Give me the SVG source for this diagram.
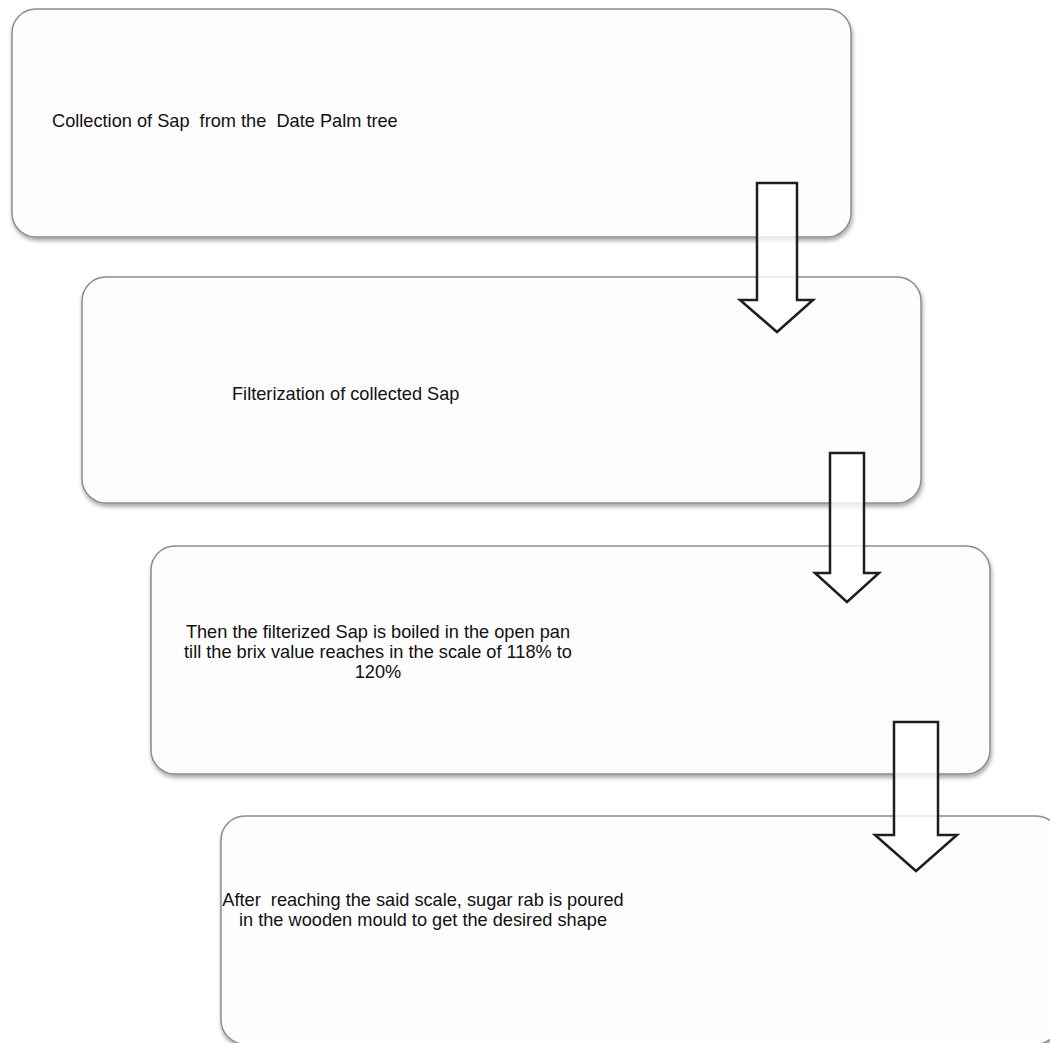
<svg xmlns="http://www.w3.org/2000/svg" width="1050" height="1043" viewBox="0 0 1050 1043">
<defs>
<filter id="sh" x="-5%" y="-5%" width="110%" height="115%">
<feDropShadow dx="1" dy="3" stdDeviation="2" flood-color="#000" flood-opacity="0.35"/>
</filter>
<style>
.box{fill:#fdfdfd;stroke:#8c8c8c;stroke-width:1.5;filter:url(#sh)}
.t{font-family:"Liberation Sans",Arial,sans-serif;font-size:18.2px;fill:#111}
.arr{fill:#fff;fill-opacity:0.8;stroke:#1e1e1e;stroke-width:2.5;stroke-linejoin:miter}
</style>
</defs>
<rect width="1050" height="1043" fill="#fff"/>
<g id="node1">
<rect class="box" x="12" y="9" width="839" height="228" rx="24"/>
<text class="t" x="52" y="127" xml:space="preserve">Collection of Sap  from the  Date Palm tree</text>
</g>
<g id="node2">
<rect class="box" x="82" y="277" width="839" height="226" rx="24"/>
<text class="t" x="232" y="400">Filterization of collected Sap</text>
</g>
<g id="node3">
<rect class="box" x="151" y="546" width="839" height="228" rx="24"/>
<text class="t" text-anchor="middle"><tspan x="378" y="638">Then the filterized Sap is boiled in the open pan</tspan><tspan x="378" y="658">till the brix value reaches in the scale of 118% to</tspan><tspan x="378" y="678">120%</tspan></text>
</g>
<g id="node4">
<rect class="box" x="221" y="816" width="839" height="228" rx="24"/>
<text class="t" text-anchor="middle" xml:space="preserve"><tspan x="423" y="906">After  reaching the said scale, sugar rab is poured</tspan><tspan x="423" y="926">in the wooden mould to get the desired shape</tspan></text>
</g>
<g id="connectors">
<path class="arr" d="M757,183 H797 V300 H813 L777,332 L740,300 H757 Z"/>
<path class="arr" d="M830,453 H864 V573 H879 L847,602 L815,573 H830 Z"/>
<path class="arr" d="M894,722 H938 V835 H957 L916,871 L875,835 H894 Z"/>
</g>
</svg>
